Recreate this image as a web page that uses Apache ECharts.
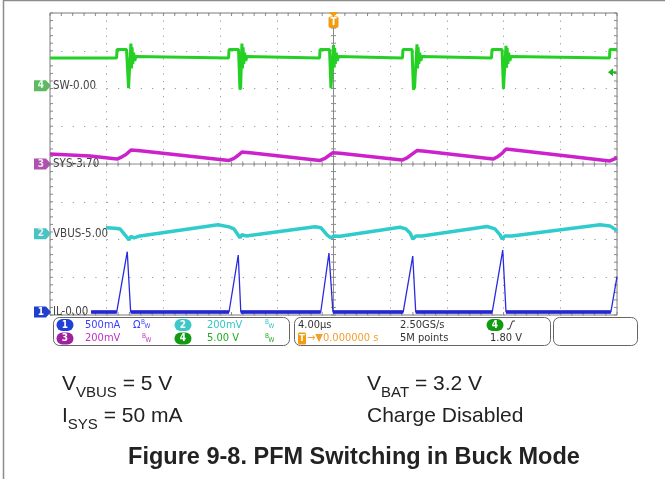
<!DOCTYPE html>
<html><head><meta charset="utf-8">
<script src="https://cdn.jsdelivr.net/npm/echarts@6/dist/echarts.min.js"></script>
<style>html,body{margin:0;padding:0;background:#fff;}#c{width:665px;height:479px;}</style>
</head><body><div id="c"></div>
<script>
// ---- data (time in microseconds) ----
const swTime = [-20, -15.30, -15.27, -14.60, -14.46, -14.40, -14.29, -14.25, -14.21, -14.16, -14.10, -14.02, -13.94, -13.80,
  -7.40, -7.37, -6.70, -6.60, -6.55, -6.46, -6.42, -6.38, -6.33, -6.27, -6.19, -6.11, -5.97,
  -0.98, -0.95, -0.28, -0.18, -0.12, 0.00, 0.04, 0.08, 0.13, 0.19, 0.27, 0.35, 0.49,
  4.87, 4.90, 5.54, 5.64, 5.72, 5.89, 5.93, 5.97, 6.02, 6.08, 6.16, 6.24, 6.38,
  11.15, 11.18, 11.89, 11.99, 12.06, 12.17, 12.21, 12.25, 12.30, 12.36, 12.44, 12.52, 12.66,
  19.47, 19.50, 20];
const swVolt = [3.7, 3.7, 4.8, 4.8, -0.3, -0.1, 5.6, 2.3, 5.1, 2.9, 4.4, 3.3, 3.9, 3.7,
  3.7, 4.8, 4.8, -0.5, -0.2, 5.6, 2.3, 5.1, 2.9, 4.4, 3.3, 3.9, 3.7,
  3.7, 4.8, 4.8, -0.3, -0.1, 5.4, 2.4, 5.0, 2.9, 4.4, 3.3, 3.9, 3.7,
  3.7, 4.8, 4.8, -0.5, -0.2, 5.5, 2.3, 5.1, 2.9, 4.4, 3.3, 3.9, 3.7,
  3.7, 4.8, 4.8, -0.4, -0.2, 5.3, 2.4, 5.0, 2.9, 4.4, 3.3, 3.9, 3.7,
  3.7, 4.8, 4.8];

const sysTime = [-20, -17.18, -15.27, -14.92, -14.64, -14.50, -14.29, -13.65, -7.37, -7.02, -6.74, -6.46, -5.89,
  -0.95, -0.60, -0.32, -0.04, 0.46, 4.83, 5.19, 5.47, 5.89, 6.46, 11.25, 11.61, 11.89, 12.17, 12.80, 19.50, 20];
const sysVolt = [3.753, 3.742, 3.726, 3.738, 3.750, 3.755, 3.774, 3.770, 3.719, 3.730, 3.745, 3.763, 3.760,
  3.719, 3.730, 3.745, 3.760, 3.757, 3.721, 3.732, 3.748, 3.771, 3.767, 3.726, 3.740, 3.756, 3.779, 3.774, 3.716, 3.732];

const vbusTime = [-16.05, -15.41, -15.06, -14.71, -14.43, -14.29, -14.07, -13.65, -8.15, -7.37, -7.02, -6.74, -6.60, -6.46, -6.17,
  -1.31, -0.88, -0.46, -0.18, 0.04, 0.46, 4.69, 5.11, 5.40, 5.61, 5.82, 6.24, 10.83, 11.39, 11.75, 11.89, 12.10, 12.59, 18.80, 19.50, 20];
const vbusVolt = [5.032, 5.030, 5.026, 4.995, 4.968, 4.986, 4.979, 4.989, 5.048, 5.037, 5.026, 4.995, 4.979, 4.995, 4.989,
  5.037, 5.032, 4.995, 4.979, 4.989, 4.987, 5.035, 5.026, 5.005, 4.972, 4.989, 4.989, 5.039, 5.026, 4.995, 4.972, 4.989, 4.989, 5.048, 5.042, 5.017];

const ilTime = [-17.10, -15.29, -14.55, -14.31, -7.37, -6.72, -6.54, -0.90, -0.32, -0.04, 4.92, 5.59, 5.80, 11.20, 11.94, 12.17, 19.57, 20];
const ilMilliAmp = [0, 0, 798, 0, 0, 754, 0, 0, 780, 0, 0, 741, 0, 0, 820, 0, 0, 467];

// channel settings (offset in divisions, scale per division)
const CH = {
  sw:   { pos: 2.07,  ref: 0,    perDiv: 5 },
  sys:  { pos: 0,     ref: 3.70, perDiv: 0.2 },
  vbus: { pos: -1.85, ref: 5.00, perDiv: 0.2 },
  il:   { pos: -3.92, ref: 0,    perDiv: 500 }
};
const toDiv = (ch, v) => CH[ch].pos + (v - CH[ch].ref) / CH[ch].perDiv;
const pairs = (ch, ts, vs) => ts.map((t, i) => [t, toDiv(ch, vs[i])]);
const trigLevel = 1.80; // V on ch4

const FONT = 'DejaVu Sans Condensed, DejaVu Sans';

const chart = echarts.init(document.getElementById('c'), null, { renderer: 'canvas' });

function graticule(params, api) {
  const ch = [];
  const P = (x, y) => api.coord([x, y]);
  const seg = (a, b, col, w) => ch.push({ type: 'line', shape: { x1: a[0], y1: a[1], x2: b[0], y2: b[1] }, style: { stroke: col, lineWidth: w || 1 } });
  seg(P(-20, 0), P(20, 0), '#8a8a8a');
  seg(P(0, -4), P(0, 4), '#8a8a8a');
  for (let k = -25; k <= 25; k++) {
    const x = k * 0.8;
    const c = P(x, 0), t = P(x, 4), b = P(x, -4);
    seg([c[0], c[1] - 2.5], [c[0], c[1] + 2.5], '#8a8a8a');
    seg([t[0], t[1]], [t[0], t[1] + 3], '#8a8a8a');
    seg([b[0], b[1]], [b[0], b[1] - 3], '#8a8a8a');
  }
  for (let k = -20; k <= 20; k++) {
    const y = k * 0.2;
    const c = P(0, y), l = P(-20, y), r = P(20, y);
    seg([c[0] - 2.5, c[1]], [c[0] + 2.5, c[1]], '#8a8a8a');
    seg([l[0], l[1]], [l[0] + 3, l[1]], '#8a8a8a');
    seg([r[0], r[1]], [r[0] - 3, r[1]], '#8a8a8a');
  }
  // trigger position marker (top)
  const tp = P(0, 4);
  ch.push({ type: 'polygon', shape: { points: [[tp[0] - 5, tp[1] - 1], [tp[0] + 5, tp[1] - 1], [tp[0], tp[1] + 4]] }, style: { fill: '#f39c12' } });
  ch.push({ type: 'rect', shape: { x: tp[0] - 5, y: tp[1] + 3.5, width: 10, height: 11.5, r: 2 }, style: { fill: '#f39c12' } });
  ch.push({ type: 'text', x: tp[0], y: tp[1] + 9.5, style: { text: 'T', fill: '#fff', font: 'bold 10px ' + FONT, align: 'center', verticalAlign: 'middle' } });
  // trigger level marker (right)
  const lv = P(20, toDiv('sw', trigLevel));
  ch.push({ type: 'polygon', shape: { points: [[lv[0] - 9, lv[1]], [lv[0] - 4, lv[1] - 4], [lv[0] - 4, lv[1] + 4]] }, style: { fill: '#22b522' } });
  ch.push({ type: 'rect', shape: { x: lv[0] - 4.5, y: lv[1] - 1, width: 4, height: 2 }, style: { fill: '#22b522' } });
  // channel ground markers + labels
  const marks = [
    { ch: 'sw', n: '4', fill: '#62b862', num: '#dfe', text: 'SW-0.00' },
    { ch: 'sys', n: '3', fill: '#b050b0', num: '#eee', text: 'SYS-3.70' },
    { ch: 'vbus', n: '2', fill: '#48c4c4', num: '#eee', text: 'VBUS-5.00' },
    { ch: 'il', n: '1', fill: '#1f3fcc', num: '#fff', text: 'IL-0.00' }
  ];
  marks.forEach(m => {
    const p = P(-20, toDiv(m.ch, CH[m.ch].ref));
    const x = p[0], y = p[1];
    ch.push({ type: 'polygon', shape: { points: [[x - 16, y - 5.5], [x - 4, y - 5.5], [x + 1, y], [x - 4, y + 5.5], [x - 16, y + 5.5]] }, style: { fill: m.fill } });
    ch.push({ type: 'text', x: x - 9, y: y, style: { text: m.n, fill: m.num, font: 'bold 10px ' + FONT, align: 'center', verticalAlign: 'middle' } });
    ch.push({ type: 'text', x: x + 3, y: y, style: { text: m.text, fill: '#444', font: '11.5px ' + FONT, align: 'left', verticalAlign: 'middle' } });
  });
  return { type: 'group', children: ch };
}

// status bar helpers
const txt = (x, y, text, color, size, weight) => ({ type: 'text', x, y, z: 10, style: { text, fill: color, font: (weight || 'normal') + ' ' + (size || 11) + 'px ' + FONT, align: 'left', verticalAlign: 'middle' } });
const pill = (cx, cy, n, color) => ([
  { type: 'rect', z: 10, shape: { x: cx - 8.5, y: cy - 6, width: 17, height: 12, r: 6 }, style: { fill: color } },
  { type: 'text', z: 11, x: cx, y: cy, style: { text: n, fill: '#fff', font: 'bold 10px ' + FONT, align: 'center', verticalAlign: 'middle' } }
]);
const bw = (x, y, color) => ([txt(x, y - 2.5, 'B', color, 6.5), txt(x + 3.5, y + 1.5, 'W', color, 6.5)]);
const box = (x, y, w, h) => ({ type: 'rect', z: 9, shape: { x, y, width: w, height: h, r: 6 }, style: { fill: 'none', stroke: '#666', lineWidth: 1 } });

const capMain = { fontSize: 21, fontFamily: 'Liberation Sans', fill: '#222', lineHeight: 25, verticalAlign: 'middle' };
const capSub = { fontSize: 15, fontFamily: 'Liberation Sans', fill: '#222', lineHeight: 31, verticalAlign: 'bottom' };

const r1 = 325, r2 = 338.5;
const graphics = [
  { type: 'line', z: 9, shape: { x1: 3, y1: 0.5, x2: 665, y2: 0.5 }, style: { stroke: '#8c8c8c', lineWidth: 1.5 } },
  { type: 'line', z: 9, shape: { x1: 3.5, y1: 0, x2: 3.5, y2: 479 }, style: { stroke: '#8c8c8c', lineWidth: 1.5 } },
  box(53.5, 317.5, 236, 28), box(294.5, 317.5, 256, 28), box(553.5, 317.5, 84, 28),
  ...pill(65, r1, '1', '#1f3fd6'), txt(85, r1, '500mA', '#3b3bff'), txt(133, r1, 'Ω', '#3b3bff'), ...bw(141, r1, '#3b3bff'),
  ...pill(183, r1, '2', '#3cc8c8'), txt(207, r1, '200mV', '#33c4c4'), ...bw(265, r1, '#33c4c4'),
  ...pill(65, r2, '3', '#a020a0'), txt(85, r2, '200mV', '#c030c0'), ...bw(142, r2, '#c030c0'),
  ...pill(183, r2, '4', '#139a13'), txt(207, r2, '5.00 V', '#22aa22'), ...bw(265, r2, '#22aa22'),
  txt(298, r1, '4.00µs', '#333'), txt(400, r1, '2.50GS/s', '#333'),
  ...pill(495, r1, '4', '#139a13'),
  { type: 'polyline', z: 10, shape: { points: [[507, r1 + 4], [509.5, r1 + 4], [512.5, r1 - 4], [515, r1 - 4]] }, style: { stroke: '#333', lineWidth: 1, fill: 'none' } },
  { type: 'rect', z: 10, shape: { x: 298, y: r2 - 6, width: 8, height: 12, r: 1.5 }, style: { fill: '#f39c12' } },
  { type: 'text', z: 11, x: 302, y: r2, style: { text: 'T', fill: '#fff', font: 'bold 9px ' + FONT, align: 'center', verticalAlign: 'middle' } },
  txt(307, r2, '→▼0.000000 s', '#f0a030'),
  txt(400, r2, '5M points', '#333'), txt(490, r2, '1.80 V', '#333'),
  // caption text
  { type: 'text', z: 10, x: 62, y: 369, style: { text: '{m|V}{s|VBUS}{m| = 5 V}', rich: { m: capMain, s: capSub } } },
  { type: 'text', z: 10, x: 367, y: 369, style: { text: '{m|V}{s|BAT}{m| = 3.2 V}', rich: { m: capMain, s: capSub } } },
  { type: 'text', z: 10, x: 62, y: 401, style: { text: '{m|I}{s|SYS}{m| = 50 mA}', rich: { m: capMain, s: capSub } } },
  { type: 'text', z: 10, x: 367, y: 401, style: { text: '{m|Charge Disabled}', rich: { m: Object.assign({}, capMain, { lineHeight: 31 }) } } },
  { type: 'text', z: 10, x: 354, y: 458, style: { text: 'Figure 9-8. PFM Switching in Buck Mode', fill: '#222', font: 'bold 23.5px Liberation Sans', align: 'center', verticalAlign: 'middle' } }
];

const ilPairs = pairs('il', ilTime, ilMilliAmp);
const ilBand = ilTime.map((t, i) => [t, ilMilliAmp[i] === 0 ? toDiv('il', 0) : '-']);

const lineBase = { type: 'line', showSymbol: false, symbol: 'none', animation: false, silent: true, z: 3, emphasis: { disabled: true }, connectNulls: false, clip: true };

chart.setOption({
  animation: false,
  backgroundColor: '#fff',
  grid: { left: 50, top: 13, width: 567, height: 302, show: true, borderColor: '#7a7a7a', borderWidth: 1, backgroundColor: 'transparent' },
  xAxis: { type: 'value', min: -20, max: 20, interval: 4, axisLabel: { show: false }, axisTick: { show: false }, axisLine: { show: false },
    splitLine: { show: true, lineStyle: { color: '#9a9a9a', width: 1, type: [1.2, 6.35] } } },
  yAxis: { type: 'value', min: -4, max: 4, interval: 1, axisLabel: { show: false }, axisTick: { show: false }, axisLine: { show: false },
    splitLine: { show: true, lineStyle: { color: '#9a9a9a', width: 1, type: [1.2, 10.14] } } },
  graphic: graphics,
  series: [
    { type: 'custom', coordinateSystem: 'cartesian2d', renderItem: graticule, data: [[0, 0]], silent: true, clip: false, z: 1, animation: false },
    Object.assign({}, lineBase, { name: 'SW', data: pairs('sw', swTime, swVolt), lineStyle: { color: '#25d025', width: 3, join: 'bevel' } }),
    Object.assign({}, lineBase, { name: 'SYS', data: pairs('sys', sysTime, sysVolt), lineStyle: { color: '#cc22cc', width: 3.5 } }),
    Object.assign({}, lineBase, { name: 'VBUS', data: pairs('vbus', vbusTime, vbusVolt), lineStyle: { color: '#30cccc', width: 3.5 } }),
    Object.assign({}, lineBase, { name: 'IL band', data: ilBand, lineStyle: { color: '#1414c8', width: 3.5 } }),
    Object.assign({}, lineBase, { name: 'IL', data: ilPairs, lineStyle: { color: '#2a2ae0', width: 1.3 } })
  ]
});
</script>
</body></html>
